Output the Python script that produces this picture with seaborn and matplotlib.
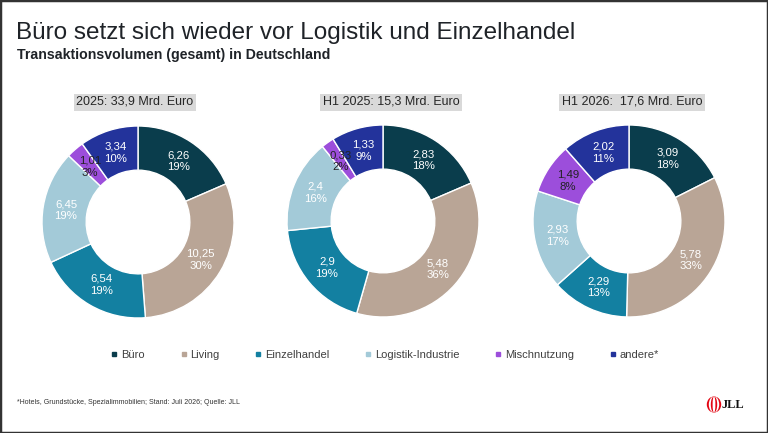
import numpy as np
import pandas as pd
import matplotlib
matplotlib.use("Agg")
import matplotlib.pyplot as plt
from matplotlib.lines import Line2D
from matplotlib.patches import Rectangle, Ellipse
import seaborn as sns

# Daten
segmente = ["Büro", "Living", "Einzelhandel", "Logistik-Industrie", "Mischnutzung", "andere*"]
perioden = ["2025: 33,9 Mrd. Euro", "H1 2025: 15,3 Mrd. Euro", "H1 2026:  17,6 Mrd. Euro"]
werte_2025 = [6.26, 10.25, 6.54, 6.45, 1.01, 3.34]
werte_h1_2025 = [2.83, 5.48, 2.9, 2.4, 0.33, 1.33]
werte_h1_2026 = [3.09, 5.78, 2.29, 2.93, 1.49, 2.02]
anteil_2025 = [19, 30, 19, 19, 3, 10]
anteil_h1_2025 = [18, 36, 19, 16, 2, 9]
anteil_h1_2026 = [18, 33, 13, 17, 8, 11]

farben = ["#0A3D4C", "#B9A596", "#1380A1", "#A3CAD8", "#9C4EDB", "#23339B"]
label_farben = ["white", "white", "white", "white", "#222222", "white"]

W, H = 768, 433


def px_axes(fig, cx, cy, r):
    return fig.add_axes([(cx - r) / W, 1 - (cy + r) / H, 2 * r / W, 2 * r / H])


def fmt(v):
    return f"{v:g}".replace(".", ",")


def draw_donut(fig, cx, cy, r, werte, anteile, titel, box_cx):
    ax = px_axes(fig, cx, cy, r)
    labels = [f"{fmt(v)}\n{p}%" for v, p in zip(werte, anteile)]
    wedges, texts = ax.pie(
        werte, labels=labels, colors=sns.color_palette(farben), startangle=90,
        counterclock=False, labeldistance=0.76, radius=1.0,
        wedgeprops=dict(width=0.46, edgecolor="white", linewidth=1.0),
        textprops=dict(fontsize=8.2, linespacing=1.25),
    )
    for t, c in zip(texts, label_farben):
        t.set_ha("center")
        t.set_va("center")
        t.set_color(c)
    ax.set_xlim(-1, 1)
    ax.set_ylim(-1, 1)
    fig.text(box_cx / W, 1 - 102 / H, titel, fontsize=9, color="#262626",
             ha="center", va="center",
             bbox=dict(facecolor="#D9D9D9", edgecolor="none", boxstyle="square,pad=0.2"))


def main():
    sns.set_theme(style="white")
    plt.rcParams["font.family"] = ["Liberation Sans", "DejaVu Sans"]

    fig = plt.figure(figsize=(W / 100, H / 100), dpi=100)
    fig.patch.set_facecolor("white")

    fig.text(16 / W, 1 - 33 / H, "Büro setzt sich wieder vor Logistik und Einzelhandel",
             fontsize=17.5, color="#1F2328", ha="left", va="center")
    fig.text(17 / W, 1 - 55 / H, "Transaktionsvolumen (gesamt) in Deutschland",
             fontsize=10.2, fontweight="bold", color="#1F2328", ha="left", va="center")

    draw_donut(fig, 138, 222, 96, werte_2025, anteil_2025, perioden[0], 135)
    draw_donut(fig, 383, 221, 96, werte_h1_2025, anteil_h1_2025, perioden[1], 391)
    draw_donut(fig, 629, 221, 96, werte_h1_2026, anteil_h1_2026, perioden[2], 632)

    handles = [Line2D([0], [0], marker="s", linestyle="none", markersize=3.5,
                      markerfacecolor=c, markeredgecolor=c) for c in farben]
    leg = fig.legend(handles, segmente, loc="center", ncol=6, frameon=False,
                     bbox_to_anchor=(385 / W, 1 - 355 / H), fontsize=8,
                     handlelength=0.6, handletextpad=0.3, columnspacing=3.2)
    for t in leg.get_texts():
        t.set_color("#404040")

    fig.text(17 / W, 1 - 402 / H,
             "*Hotels, Grundstücke, Spezialimmobilien; Stand: Juli 2026; Quelle: JLL",
             fontsize=5, color="#333333", ha="left", va="center")

    # JLL Logo
    logo = fig.add_axes([706 / W, 1 - 413 / H, 16 / W, 17 / H])
    logo.set_xlim(-1, 1)
    logo.set_ylim(-1, 1)
    logo.axis("off")
    for i, w in enumerate([1.8, 1.3, 0.8, 0.35]):
        logo.add_patch(Ellipse((0, 0), w, 1.9, facecolor="#E30613" if i % 2 == 0 else "white",
                               edgecolor="none"))
    fig.text(722 / W, 1 - 405 / H, "JLL", fontsize=9, fontweight="bold",
             family=["Liberation Serif", "DejaVu Serif"], color="#111111",
             ha="left", va="center")

    fig.patches.append(Rectangle((0, 0), 1, 1, transform=fig.transFigure, fill=False,
                                 edgecolor="#333333", linewidth=2.5))

    fig.savefig("out.png", dpi=100)
    plt.close(fig)


if __name__ == "__main__":
    main()
